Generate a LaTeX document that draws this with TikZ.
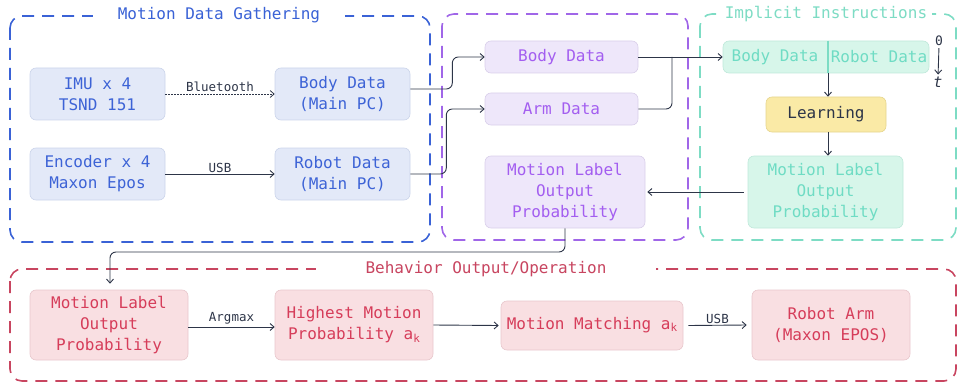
\documentclass[tikz,border=0pt]{standalone}
\usepackage{fontspec}
\setmonofont{DejaVu Sans Mono}
\usetikzlibrary{arrows.meta}

\definecolor{connc}{HTML}{2D3548}
% blue group
\definecolor{bluegrp}{HTML}{3A62D6}
\definecolor{bluefill}{HTML}{E3E9F8}
\definecolor{blueline}{HTML}{CBD4EA}
\definecolor{bluetext}{HTML}{3D63D6}
% purple group
\definecolor{purpgrp}{HTML}{A066E8}
\definecolor{purpfill}{HTML}{EEE7FA}
\definecolor{purpline}{HTML}{D9CFEA}
\definecolor{purptext}{HTML}{A35EF0}
% teal group
\definecolor{tealgrp}{HTML}{7DDCC4}
\definecolor{tealfill}{HTML}{D7F6EA}
\definecolor{tealline}{HTML}{BFE8DA}
\definecolor{tealtext}{HTML}{6FDCC4}
% red group
\definecolor{redgrp}{HTML}{C84560}
\definecolor{redfill}{HTML}{F9DFE2}
\definecolor{redline}{HTML}{E8C7CC}
\definecolor{redtext}{HTML}{D63D5A}
% learning block
\definecolor{yelfill}{HTML}{FAEAA6}
\definecolor{yelline}{HTML}{E6D58E}

\newcommand{\subk}{{\fontsize{11}{11}\selectfont\raisebox{-0.35ex}{k}}}

\tikzset{
  x=1pt, y=-1pt,
  mono/.style={font=\ttfamily\fontsize{16}{21}\selectfont},
  smalllbl/.style={font=\ttfamily\fontsize{12.5}{14}\selectfont, text=connc, inner sep=2pt},
  box/.style={mono, rounded corners=6pt, line width=0.6pt, align=center, inner sep=0pt},
  bluebox/.style={box, draw=blueline, fill=bluefill, text=bluetext},
  purpbox/.style={box, draw=purpline, fill=purpfill, text=purptext},
  tealbox/.style={box, draw=tealline, fill=tealfill, text=tealtext},
  redbox/.style={box, draw=redline, fill=redfill, text=redtext},
  grp/.style={line width=1.6pt, dash pattern=on 12pt off 8pt, rounded corners=12pt},
  grptitle/.style={mono, fill=white, inner ysep=2pt},
  conn/.style={draw=connc, line width=0.9pt, -{Straight Barb[length=4pt,width=7pt]}},
  plain/.style={draw=connc, line width=0.9pt},
}

\begin{document}
\begin{tikzpicture}
\useasboundingbox (0,0) rectangle (960,385);

% dashed group frames
\draw[grp, draw=bluegrp] (10,16) rectangle (430,242);
\draw[grp, draw=purpgrp] (442,14) rectangle (688,240);
\draw[grp, draw=tealgrp] (700,14) rectangle (956,240);
\draw[grp, draw=redgrp] (10,269) rectangle (956,381);

% group titles
\node[grptitle, text=bluegrp, inner xsep=25pt] (tblue) at (219,15) {Motion Data Gathering};
\node[grptitle, text=tealgrp, inner xsep=5pt] (tteal) at (826,14) {Implicit Instructions};
\node[grptitle, text=redgrp, inner xsep=50pt] (tred) at (486,269) {Behavior Output/Operation};

% sensors and main PC data
\node[bluebox, minimum width=135pt, minimum height=52pt] (imu) at (97.5,94) {IMU x 4\\TSND 151};
\node[bluebox, minimum width=135pt, minimum height=52pt] (enc) at (97.5,174) {Encoder x 4\\Maxon Epos};
\node[bluebox, minimum width=135pt, minimum height=52pt] (bodypc) at (342.5,94) {Body Data\\(Main PC)};
\node[bluebox, minimum width=135pt, minimum height=52pt] (robotpc) at (342.5,174) {Robot Data\\(Main PC)};

% intermediate data
\node[purpbox, minimum width=153pt, minimum height=32pt] (pbody) at (561.5,57) {Body Data};
\node[purpbox, minimum width=153pt, minimum height=32pt] (parm) at (561.5,109) {Arm Data};
\node[purpbox, minimum width=160pt, minimum height=72pt] (plabel) at (565,192) {Motion Label\\Output\\Probability};

% implicit instructions
\node[tealbox, minimum width=206pt, minimum height=32pt] (tbox) at (826,57) {};
\coordinate (dv) at (828,57);
\node[mono, text=tealtext, inner sep=0pt] (tb1) at (775,57) {Body Data};
\node[mono, text=tealtext, inner sep=0pt] (tb2) at (879,57) {Robot Data};
\draw[draw=tealgrp, line width=1.4pt] (tbox.north -| dv) -- (tbox.south -| dv);
\node[box, draw=yelline, fill=yelfill, text=connc, minimum width=120pt, minimum height=35pt] (learn) at (826,114.5) {Learning};
\node[tealbox, minimum width=155pt, minimum height=72pt] (tlabel) at (825.5,192) {Motion Label\\Output\\Probability};

% time axis
\node[text=connc, inner sep=0pt, font=\ttfamily\fontsize{13}{14}\selectfont] (zero) at (939,41) {0};
\node[text=connc, inner sep=0pt, font=\ttfamily\itshape\fontsize{15}{15}\selectfont] (tt) at (938,82) {t};
\draw[conn, shorten <=2pt, shorten >=2pt] (zero.south) -- (tt.north);

% behavior output
\node[redbox, minimum width=158pt, minimum height=70pt] (rlabel) at (109,325) {Motion Label\\Output\\Probability};
\node[redbox, minimum width=158pt, minimum height=70pt] (rhigh) at (354,325) {Highest Motion\\Probability a\subk};
\node[redbox, minimum width=182pt, minimum height=49pt] (rmatch) at (592,325.5) {Motion Matching a\subk};
\node[redbox, minimum width=158pt, minimum height=70pt] (rarm) at (831,325) {Robot Arm\\(Maxon EPOS)};

% connectors
\draw[conn, dash pattern=on 1.5pt off 1.5pt, line width=0.8pt] (imu.east) -- node[smalllbl, above] {Bluetooth} (bodypc.west);
\draw[conn] (enc.east) -- node[smalllbl, above, inner sep=0.5pt] {USB} (robotpc.west);

\draw[conn, rounded corners=6pt] ([yshift=5pt]bodypc.east) -- ++(42,0) |- (pbody.west);
\draw[conn, rounded corners=6pt] (robotpc.east) -- ++(36,0) |- (parm.west);

\draw[conn] (pbody.east) -- (tbox.west);
\coordinate (merge) at (672,57);
\draw[plain, rounded corners=6pt] (parm.east) -| (merge);

\draw[conn] (tbox.south -| dv) -- (learn.north -| dv);
\draw[conn] (learn.south -| dv) -- (tlabel.north -| dv);
\draw[conn] ([xshift=-4pt]tlabel.west) -- ([xshift=2pt]plabel.east);

\coordinate (bend) at (110,252);
\draw[conn, rounded corners=6pt] (plabel.south) |- (bend) -- ([yshift=6pt]rlabel.north -| bend);

\draw[conn] ([yshift=-2pt]rlabel.east) -- node[smalllbl, above] {Argmax} ([yshift=-2pt]rhigh.west);
\draw[conn] (rhigh.east) -- ([xshift=-2pt]rmatch.west);
\draw[conn] ([xshift=5pt]rmatch.east) -- node[smalllbl, above, inner sep=1pt] {USB} ([xshift=-5pt]rarm.west);
\end{tikzpicture}
\end{document}
